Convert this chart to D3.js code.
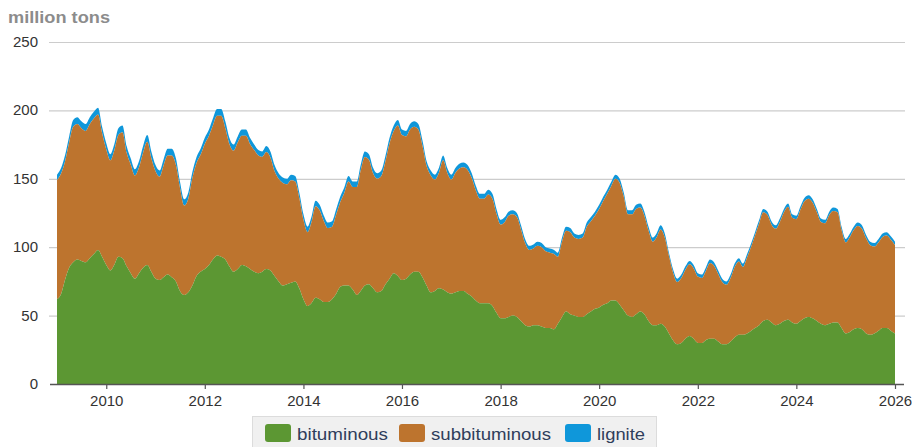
<!DOCTYPE html>
<html>
<head>
<meta charset="utf-8">
<script src="https://cdn.jsdelivr.net/npm/d3@7"></script>
<style>
  html, body { margin: 0; padding: 0; background: #fff; }
  svg { display: block; }
</style>
</head>
<body>
<svg id="chart" width="912" height="447"></svg>
<script>
// ---- data (million tons), monthly from Jan 2009 ----
const startMonth = "2009-01-01";
const seriesKeys = ["bituminous", "subbituminous", "lignite"];
const seriesColors = ["#5c9733", "#bd742e", "#0f97da"];
const yTicks = [0, 50, 100, 150, 200, 250];
const xTickYears = [2010, 2012, 2014, 2016, 2018, 2020, 2022, 2024, 2026];

const bituminous = [
62,66,76,85,89,91,90,89,92,95,98,93,
87,83,87,93,92,86,81,77,81,85,87,82,
77,76,78,80,78,75,68,65,67,72,79,82,
84,87,91,94,93,91,86,82,84,87,86,84,
82,81,82,84,83,79,75,72,73,74,75,70,
62,57,59,63,62,60,60,62,66,71,72,72,
69,65,68,72,73,70,67,68,73,77,81,79,
76,77,80,82,82,78,72,67,68,70,69,67,
66,67,68,68,66,64,61,59,59,59,57,52,
48,48,49,50,49,46,43,42,43,43,42,41,
41,40,44,49,53,51,50,49,49,51,53,55,
56,58,59,61,61,58,54,50,49,51,53,51,
46,43,43,44,42,37,32,29,30,33,35,33,
30,30,32,33,33,31,29,29,31,34,36,36,
37,39,41,43,46,47,45,43,44,46,47,45,
44,46,48,49,48,46,44,43,44,45,45,41,
37,38,40,41,40,37,36,37,39,41,41,39,
37];

const subbituminous = [
87,88,86.5,91.5,99,99,97,96,98,99,99,90.5,
84.5,80.5,83.5,89,92,83,79.5,75.5,77.5,84,90,83,
78.5,75.5,81.5,87,89,85,75.5,65.5,68.5,78.5,82.5,85.5,
91.5,94.5,98,102,103,96,89.5,88.5,92.5,94.5,95.5,91.5,
89,86,84,85.5,82.5,76.5,75,75,73,75,73,66,
58,54,59,67,65,59,54,53,58,62,68,76,
75,79,88,94,91,84,83,84,90,99,104,110,
106,104,106,106,104,96,87.5,85.5,81.5,84.5,94.5,87.5,
83.5,87.5,89.5,90.5,90.5,86.5,80.5,76.5,76.5,79.5,78.5,72.5,
68.5,70.5,74,74,73,67,60,56,56,58,58,56,
55,55,49,55,59,60,57,57,58,64,66,68,
72,76,80,84,89,89,83,74,75,77,76,72,
66,61,64,69,65,56.5,49.5,45.5,47.5,50.5,52.5,51.5,
48.5,47.5,50.5,55.5,53.5,49.5,45.5,43.5,46.5,51.5,53.5,49.5,
55.5,61.5,67.5,74.5,79.5,76.5,71.5,70.5,74.5,79.5,82.5,76.5,
76.5,81.5,85.5,86.5,84.5,79.5,74.5,74.5,79.5,81.5,80.5,71.5,
66.5,69.5,72.5,74.5,73.5,69.5,65.5,63.5,64.5,66.5,67.5,66.5,
64.5];

const lignite = [
4,4,4.5,4.5,5,5,5,5,5,5,5,4.5,
4.5,4.5,4.5,5,5,5,4.5,4.5,4.5,5,5,5,
4.5,4.5,4.5,5,5,5,4.5,4.5,4.5,4.5,4.5,4.5,
4.5,4.5,5,5,5,5,4.5,4.5,4.5,4.5,4.5,4.5,
4,4,4,4.5,4.5,4.5,4,4,4,4,4,4,
4,4,4,4,4,4,4,4,4,4,4,4,
4,4,4,4,4,4,4,4,4,4,4,4,
4,4,4,4,4,4,3.5,3.5,3.5,3.5,3.5,3.5,
3.5,3.5,3.5,3.5,3.5,3.5,3.5,3.5,3.5,3.5,3.5,3.5,
3.5,3.5,3,3,3,3,3,3,3,3,3,3,
3,3,3,3,3,3,3,3,3,3,3,3,
3,3,3,3,3,3,3,3,3,3,3,3,
3,3,3,3,3,2.5,2.5,2.5,2.5,2.5,2.5,2.5,
2.5,2.5,2.5,2.5,2.5,2.5,2.5,2.5,2.5,2.5,2.5,2.5,
2.5,2.5,2.5,2.5,2.5,2.5,2.5,2.5,2.5,2.5,2.5,2.5,
2.5,2.5,2.5,2.5,2.5,2.5,2.5,2.5,2.5,2.5,2.5,2.5,
2.5,2.5,2.5,2.5,2.5,2.5,2.5,2.5,2.5,2.5,2.5,2.5,
2.5];

// ---- build table ----
const t0 = new Date(startMonth + "T00:00:00");
const dates = d3.range(bituminous.length).map(i => d3.timeMonth.offset(t0, i));
const table = dates.map((d, i) => ({
  date: d,
  bituminous: bituminous[i],
  subbituminous: subbituminous[i],
  lignite: lignite[i]
}));

const svg = d3.select("#chart");

const x = d3.scaleTime()
  .domain([new Date(2009, 0, 1), new Date(2026, 0, 1)])
  .range([57, 895]);
const y = d3.scaleLinear().domain([0, 250]).range([384, 42]);

// gridlines
svg.append("g")
  .selectAll("line")
  .data(yTicks.filter(v => v > 0))
  .join("line")
  .attr("x1", 49).attr("x2", 905)
  .attr("y1", d => y(d) + 0.5).attr("y2", d => y(d) + 0.5)
  .attr("stroke", "#cccccc").attr("stroke-width", 1.2);

// y tick labels
svg.append("g")
  .selectAll("text")
  .data(yTicks)
  .join("text")
  .attr("x", 38)
  .attr("y", d => y(d) + 5)
  .attr("text-anchor", "end")
  .attr("font-family", "'Liberation Sans', Arial, sans-serif")
  .attr("font-size", 15)
  .attr("fill", "#333")
  .text(d => d);

// title
svg.append("text")
  .attr("x", 8).attr("y", 23)
  .attr("font-family", "'Liberation Sans', Arial, sans-serif")
  .attr("font-size", 17)
  .attr("font-weight", "bold")
  .attr("textLength", 102)
  .attr("lengthAdjust", "spacingAndGlyphs")
  .attr("fill", "#8c8c8c")
  .text("million tons");

// stacked areas
const stack = d3.stack().keys(seriesKeys);
const layers = stack(table);
const area = d3.area()
  .x(d => x(d.data.date))
  .y0(d => y(d[0]))
  .y1(d => y(d[1]))
  .curve(d3.curveMonotoneX);

svg.append("g")
  .selectAll("path")
  .data(layers.slice().reverse())
  .join("path")
  .attr("fill", d => seriesColors[seriesKeys.indexOf(d.key)])
  .attr("d", area);

// x axis
const xAxis = d3.axisBottom(x)
  .tickValues(xTickYears.map(yy => new Date(yy, 0, 1)))
  .tickFormat(d3.timeFormat("%Y"))
  .tickSize(5)
  .tickSizeOuter(0);
const gx = svg.append("g")
  .attr("transform", "translate(0,384)")
  .call(xAxis);
gx.select(".domain").remove();
gx.append("line")
  .attr("x1", 50).attr("x2", 904)
  .attr("y1", 0.5).attr("y2", 0.5)
  .attr("stroke", "#555").attr("stroke-width", 1.5);
gx.selectAll(".tick line").attr("stroke", "#555").attr("stroke-width", 1.2);
gx.selectAll(".tick text")
  .attr("font-family", "'Liberation Sans', Arial, sans-serif")
  .attr("font-size", 15)
  .attr("fill", "#333")
  .attr("dy", "0.9em");

// legend
const lg = svg.append("g");
lg.append("rect")
  .attr("x", 252.5).attr("y", 416.5)
  .attr("width", 404).attr("height", 40)
  .attr("fill", "#f0f0f0").attr("stroke", "#dcdcdc");
const legendItems = [
  {key: "bituminous", x: 265, w: 91},
  {key: "subbituminous", x: 399, w: 120},
  {key: "lignite", x: 565, w: 48}
];
legendItems.forEach(it => {
  const c = seriesColors[seriesKeys.indexOf(it.key)];
  lg.append("rect")
    .attr("x", it.x).attr("y", 424)
    .attr("width", 26).attr("height", 18)
    .attr("rx", 3)
    .attr("fill", c);
  lg.append("text")
    .attr("x", it.x + 32).attr("y", 440)
    .attr("font-family", "'Liberation Sans', Arial, sans-serif")
    .attr("font-size", 17)
    .attr("textLength", it.w)
    .attr("lengthAdjust", "spacingAndGlyphs")
    .attr("fill", "#2f3e5c")
    .text(it.key);
});
</script>
</body>
</html>
